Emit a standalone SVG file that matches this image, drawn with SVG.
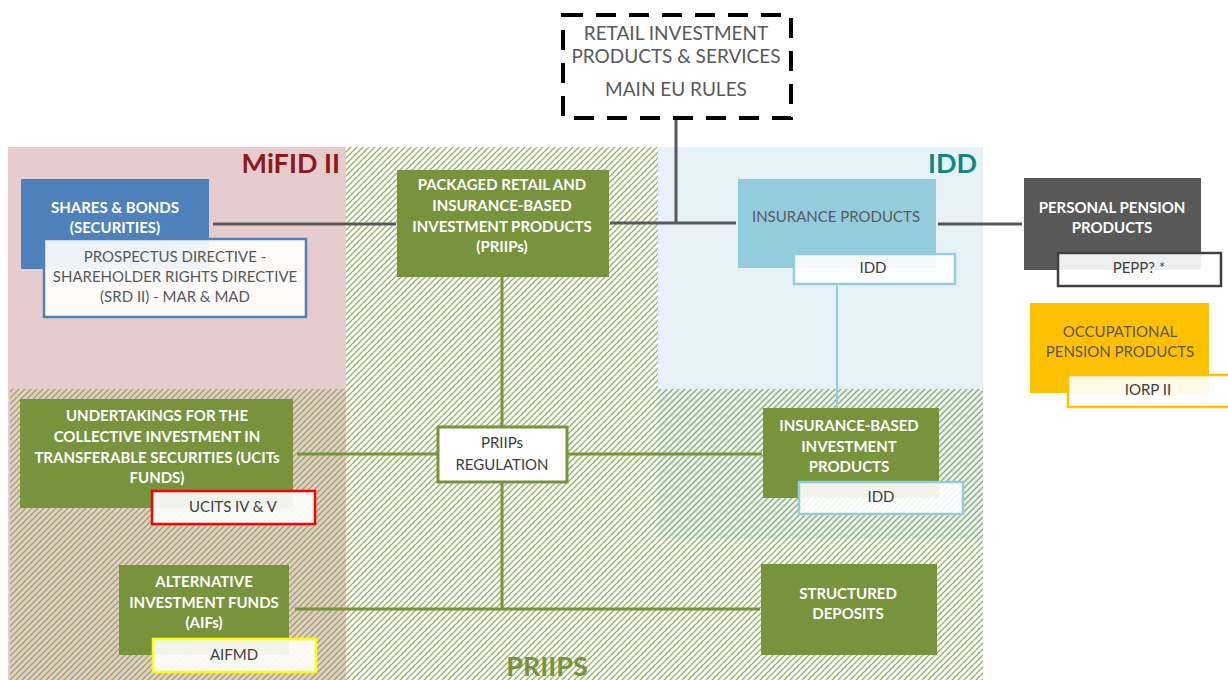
<svg xmlns="http://www.w3.org/2000/svg" width="1228" height="680" viewBox="0 0 1228 680">
<defs>
<pattern id="hatch" patternUnits="userSpaceOnUse" width="6" height="6">
<path d="M-1,1 l2,-2 M0,6 l6,-6 M5,7 l2,-2" stroke="#86a84c" stroke-width="1.3"/>
</pattern>
<style>
text{font-family:Lato,"Liberation Sans",sans-serif;text-anchor:middle}
.wb{fill:#fff;font-weight:bold;font-size:15px}
.gr{fill:#595959;font-size:15px}
.sub{fill:#404040;font-size:15px}
.subbox{fill:#fff;fill-opacity:0.9;stroke-width:2.5}
.gline{stroke:#595959;stroke-width:3;fill:none}
.pline{stroke:#77933c;stroke-width:3;fill:none}
.bline{stroke:#93cddd;stroke-width:2;fill:none}
</style>
</defs>
<rect width="1228" height="680" fill="#fff"/>
<g id="regions">
<rect x="8" y="147" width="338" height="533" fill="#e6cccc"/>
<rect x="658" y="147" width="325" height="392" fill="#e6f2f8"/>
<path d="M346,147 H658 V389 H983 V680 H10 V389 H346 Z" fill="url(#hatch)" fill-opacity="0.9"/>
<text x="340" y="173" style="text-anchor:end;font-weight:bold;font-size:27px;fill:#8b1a1a">MiFID II</text>
<text x="977" y="173" style="text-anchor:end;font-weight:bold;font-size:27px;fill:#12877f">IDD</text>
<text x="547" y="676" style="font-weight:bold;font-size:27px;fill:#77933c">PRIIPS</text>
</g>
<g id="connectors">
<path class="gline" d="M676,118 V223 M610,223 H736 M213,224 H396 M938,224 H1022"/>
<path class="pline" d="M502,277 V609 M297,454 H762 M295,609 H760"/>
<path class="bline" d="M837,284 V408"/>
</g>
<g id="title">
<rect x="563" y="15" width="228" height="103" fill="#fff" stroke="#000" stroke-width="4" stroke-dasharray="20 13"/>
<text x="676" y="40" style="fill:#595959;font-size:19px">RETAIL INVESTMENT</text>
<text x="676" y="63" style="fill:#595959;font-size:19px">PRODUCTS &amp; SERVICES</text>
<text x="676" y="96" style="fill:#595959;font-size:19px">MAIN EU RULES</text>
</g>
<g id="shares">
<rect x="21" y="179" width="188" height="90" fill="#4f81bd"/>
<text class="wb" x="115" y="213">SHARES &amp; BONDS</text>
<text class="wb" x="115" y="233">(SECURITIES)</text>
<rect class="subbox" x="44" y="239" width="262" height="78" stroke="#4f81bd"/>
<text class="gr" x="175" y="262">PROSPECTUS DIRECTIVE -</text>
<text class="gr" x="175" y="282">SHAREHOLDER RIGHTS DIRECTIVE</text>
<text class="gr" x="175" y="302">(SRD II) - MAR &amp; MAD</text>
</g>
<g id="priips">
<rect x="397" y="170" width="212" height="107" fill="#77933c"/>
<text class="wb" x="502" y="190">PACKAGED RETAIL AND</text>
<text class="wb" x="502" y="211">INSURANCE-BASED</text>
<text class="wb" x="502" y="232">INVESTMENT PRODUCTS</text>
<text class="wb" x="502" y="252">(PRIIPs)</text>
</g>
<g id="insurance">
<rect x="738" y="179" width="198" height="89" fill="#93cddd"/>
<text class="gr" x="836" y="222">INSURANCE PRODUCTS</text>
<rect class="subbox" x="794" y="254" width="161" height="30" stroke="#93cddd"/>
<text class="sub" x="873" y="273">IDD</text>
</g>
<g id="personal-pension">
<rect x="1024" y="178" width="177" height="92" fill="#595959"/>
<text class="wb" x="1112" y="213">PERSONAL PENSION</text>
<text class="wb" x="1112" y="233">PRODUCTS</text>
<rect class="subbox" x="1058" y="253" width="163" height="33" stroke="#404040"/>
<text class="sub" x="1139" y="273">PEPP? *</text>
</g>
<g id="occupational-pension">
<rect x="1030" y="303" width="179" height="90" fill="#ffc000"/>
<text class="gr" x="1120" y="337">OCCUPATIONAL</text>
<text class="gr" x="1120" y="357">PENSION PRODUCTS</text>
<rect class="subbox" x="1068" y="375" width="172" height="32" stroke="#ffc000"/>
<text class="sub" x="1148" y="395">IORP II</text>
</g>
<g id="ucits">
<rect x="20" y="399" width="273" height="109" fill="#77933c"/>
<text class="wb" x="157" y="421">UNDERTAKINGS FOR THE</text>
<text class="wb" x="157" y="442">COLLECTIVE INVESTMENT IN</text>
<text class="wb" x="157" y="463">TRANSFERABLE SECURITIES (UCITs</text>
<text class="wb" x="157" y="483">FUNDS)</text>
<rect class="subbox" x="152" y="491" width="163" height="33" stroke="#ff0000"/>
<text class="sub" x="233" y="512">UCITS IV &amp; V</text>
</g>
<g id="aif">
<rect x="119" y="565" width="170" height="90" fill="#77933c"/>
<text class="wb" x="204" y="587">ALTERNATIVE</text>
<text class="wb" x="204" y="608">INVESTMENT FUNDS</text>
<text class="wb" x="204" y="628">(AIFs)</text>
<rect class="subbox" x="153" y="639" width="163" height="33" stroke="#ffff00"/>
<text class="sub" x="234" y="660">AIFMD</text>
</g>
<g id="priips-regulation">
<rect x="438" y="427" width="129" height="55" fill="#fff" stroke="#77933c" stroke-width="3"/>
<text class="sub" x="502" y="448">PRIIPs</text>
<text class="sub" x="502" y="470">REGULATION</text>
</g>
<g id="insurance-based">
<rect x="763" y="408" width="176" height="90" fill="#77933c"/>
<text class="wb" x="849" y="431">INSURANCE-BASED</text>
<text class="wb" x="849" y="452">INVESTMENT</text>
<text class="wb" x="849" y="472">PRODUCTS</text>
<rect class="subbox" x="799" y="482" width="164" height="32" stroke="#93cddd"/>
<text class="sub" x="881" y="502">IDD</text>
</g>
<g id="structured-deposits">
<rect x="761" y="564" width="176" height="91" fill="#77933c"/>
<text class="wb" x="848" y="599">STRUCTURED</text>
<text class="wb" x="848" y="619">DEPOSITS</text>
</g>
</svg>
